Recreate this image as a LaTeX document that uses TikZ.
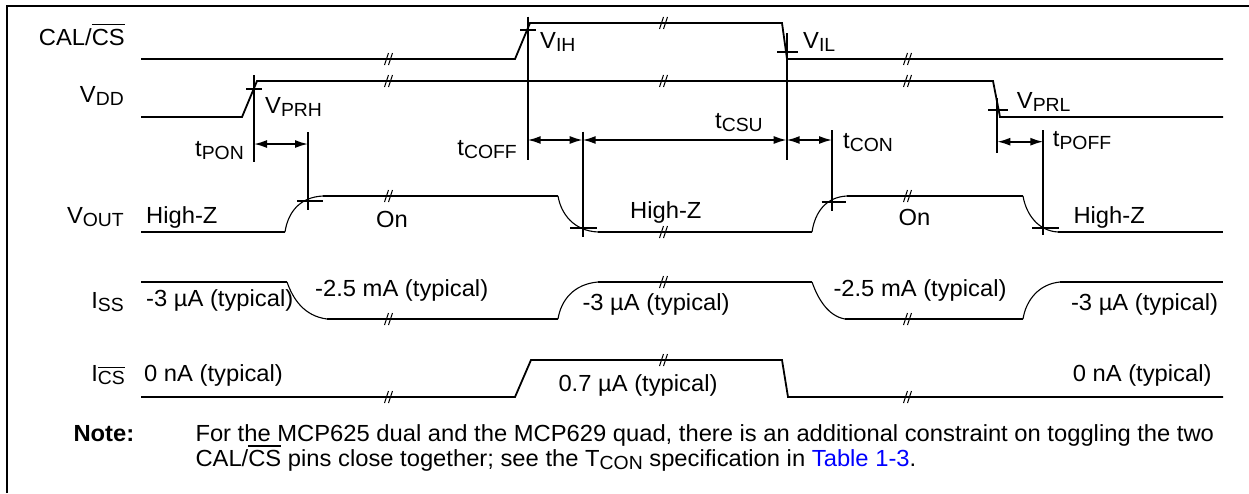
\documentclass[tikz,border=0pt]{standalone}
\usepackage{fontspec}
\setmainfont[FakeStretch=1.02]{Liberation Sans}
\usetikzlibrary{arrows.meta}
\definecolor{linkblue}{RGB}{0,0,255}
\newcommand\lsub[1]{\raisebox{-3pt}{\fontsize{19}{20}\selectfont #1}}
\newcommand\ovl[2][3.5pt]{\setbox0\hbox{#2}\rlap{\rule[\dimexpr\ht0+#1\relax]{\wd0}{1.5pt}}\box0\relax}
\begin{document}
\begin{tikzpicture}[x=1pt,y=-1pt,
  sig/.style={line width=1.8pt, line join=miter},
  curvy/.style={line width=1.1pt},
  tick/.style={line width=1.8pt},
  frame/.style={line width=2pt},
  dim/.style={line width=1.7pt, {Latex[length=13pt,width=8pt]}-{Latex[length=13pt,width=8pt]}},
  txt/.style={inner sep=0pt, font=\fontsize{23.3}{25}\selectfont},
  brk/.pic={\draw[line width=1pt] (-5.5,6) -- (-1.5,-6) (-1.5,6) -- (2.5,-6);}]
\useasboundingbox (0,0) rectangle (1249,493);
% frame
\draw[frame] (7,493) -- (7,6) -- (1249,6);

% ---- signals ----
% CAL/CS
\draw[sig] (141,59) -- (515,59) -- (530,23) -- (782,23) -- (787,59) -- (1223,59);
% VDD
\draw[sig] (141,117) -- (242,117) -- (257,81) -- (993,81) -- (1000,117) -- (1223,117);
% VOUT
\draw[sig] (141,232) -- (285,232);
\draw[curvy] (285,232) .. controls (288,212) and (300,197) .. (323,196);
\draw[sig] (323,196) -- (558,196);
\draw[curvy] (558,196) .. controls (561,214) and (574,231) .. (598,232);
\draw[sig] (598,232) -- (812,232);
\draw[curvy] (812,232) .. controls (815,212) and (826,197) .. (847,196);
\draw[sig] (847,196) -- (1023,196);
\draw[curvy] (1023,196) .. controls (1026,214) and (1038,231) .. (1058,232);
\draw[sig] (1058,232) -- (1223,232);
% ISS
\draw[sig] (141,282) -- (287,282);
\draw[curvy] (287,282) .. controls (293,299) and (304,316) .. (327,319);
\draw[sig] (327,319) -- (558,319);
\draw[curvy] (558,319) .. controls (561,300) and (574,284) .. (598,282);
\draw[sig] (598,282) -- (812,282);
\draw[curvy] (812,282) .. controls (818,299) and (828,316) .. (845,319);
\draw[sig] (845,319) -- (1023,319);
\draw[curvy] (1023,319) .. controls (1026,300) and (1039,284) .. (1060,282);
\draw[sig] (1060,282) -- (1223,282);
% ICS
\draw[sig] (141,397) -- (515,397) -- (531,360) -- (782,360) -- (788,397) -- (1223,397);

% ---- break marks ----
\foreach \y in {59,81,196,319,397} {\pic at (390,\y) {brk}; \pic at (909,\y) {brk};}
\foreach \y in {23,81,232,282,360} {\pic at (665,\y) {brk};}

% ---- threshold ticks ----
\draw[tick] (246,89) -- (262,89);
\draw[tick] (520,30) -- (536,30);
\draw[tick] (777,51.7) -- (798,51.7);
\draw[tick] (988,110) -- (1008,110);
\draw[tick] (297,201) -- (323,201);
\draw[tick] (570,228.3) -- (596.7,228.3);
\draw[tick] (821.7,201.7) -- (846,201.7);
\draw[tick] (1032.3,227.7) -- (1059.3,227.7);

% ---- timing verticals ----
\coordinate (v1t) at (254,75);     \coordinate (v1b) at (254,162);
\coordinate (v2t) at (308,132);    \coordinate (v2b) at (308,210);
\coordinate (v3t) at (527.7,16.7); \coordinate (v3b) at (527.7,160);
\coordinate (v4t) at (582.7,131.7);\coordinate (v4b) at (582.7,237.3);
\coordinate (v5t) at (786.7,33);   \coordinate (v5b) at (786.7,160);
\coordinate (v6t) at (832,130);    \coordinate (v6b) at (832,211);
\coordinate (v7t) at (997.3,98);   \coordinate (v7b) at (997.3,152.7);
\coordinate (v8t) at (1043.3,130); \coordinate (v8b) at (1043.3,235);
\foreach \v in {1,...,8} {\draw[tick] (v\v t) -- (v\v b);}

% ---- dimension arrows ----
\coordinate (a1) at (254,144);   \coordinate (a2) at (308,144);
\coordinate (b1) at (527.7,140); \coordinate (b2) at (582.7,140);
\coordinate (b3) at (786.7,140); \coordinate (b4) at (832,140);
\coordinate (c1) at (997.3,141.7); \coordinate (c2) at (1043.3,141.7);
\draw[dim] (a1) -- (a2);
\draw[dim] (b1) -- (b2);
\draw[dim] (b2) -- (b3);
\draw[dim] (b3) -- (b4);
\draw[dim] (c1) -- (c2);

% ---- signal names ----
\node[txt, anchor=base east] (ncal) at (125,45) {CAL/\ovl{CS}};
\node[txt, anchor=base east] (nvdd) at (124,102) {V\lsub{DD}};
\node[txt, anchor=base east] (nvout) at (124,223) {V\lsub{OUT}};
\node[txt, anchor=base east] (niss) at (124,308) {I\lsub{SS}};
\node[txt, anchor=base east] (nics) at (125,381.7) {I\lsub{\ovl[3pt]{CS}}};

% ---- thresholds ----
\node[txt, anchor=base west] (lprh) at (265,113) {V\lsub{PRH}};
\node[txt, anchor=base west] (lih) at (540,48) {V\lsub{IH}};
\node[txt, anchor=base west] (lil) at (803,48) {V\lsub{IL}};
\node[txt, anchor=base west] (lprl) at (1016.7,108) {V\lsub{PRL}};

% ---- timing labels ----
\node[txt, anchor=base east] (tpon) at (244,156.7) {t\lsub{PON}};
\node[txt, anchor=base east] (tcoff) at (517,155) {t\lsub{COFF}};
\node[txt, anchor=base west] (tcsu) at (715,128.5) {t\lsub{CSU}};
\node[txt, anchor=base west] (tcon) at (843,148) {t\lsub{CON}};
\node[txt, anchor=base west] (tpoff) at (1052.7,146.7) {t\lsub{POFF}};

% ---- state labels ----
\node[txt, anchor=base west] (s1) at (146,223) {High-Z};
\node[txt, anchor=base west] (s2) at (376,227) {On};
\node[txt, anchor=base west] (s3) at (630,218.3) {High-Z};
\node[txt, anchor=base west] (s4) at (898.3,225) {On};
\node[txt, anchor=base west] (s5) at (1073.3,223.3) {High-Z};
\node[txt, anchor=base west] (i1) at (146,306.7) {-3 µA (typical)};
\node[txt, anchor=base west] (i2) at (315,296.7) {-2.5 mA (typical)};
\node[txt, anchor=base west] (i3) at (582.3,310) {-3 µA (typical)};
\node[txt, anchor=base west] (i4) at (833.3,296.7) {-2.5 mA (typical)};
\node[txt, anchor=base east] (i5) at (1218.3,310) {-3 µA (typical)};
\node[txt, anchor=base west] (c1t) at (144,381.7) {0 nA (typical)};
\node[txt, anchor=base west] (c2t) at (558.3,391.7) {0.7 µA (typical)};
\node[txt, anchor=base east] (c3t) at (1211.7,381.7) {0 nA (typical)};

% ---- note ----
\node[txt, anchor=base west, font=\fontsize{23.3}{25}\selectfont\bfseries] (note) at (73.3,441.7) {Note:};
\node[txt, anchor=base west] (n1) at (195.3,441.7) {For the MCP625 dual and the MCP629 quad, there is an additional constraint on toggling the two};
\node[txt, anchor=base west] (n2) at (195.3,466.7) {CAL/\ovl{CS} pins close together; see the T\lsub{CON} specification in \textcolor{linkblue}{Table 1-3}.};
\end{tikzpicture}
\end{document}
